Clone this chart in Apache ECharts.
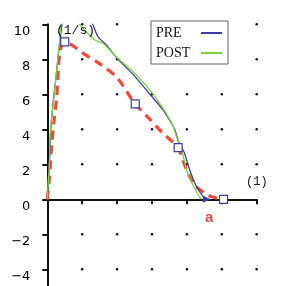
<!DOCTYPE html>
<html>
<head>
<meta charset="utf-8">
<script src="https://cdn.jsdelivr.net/npm/echarts@6/dist/echarts.min.js"></script>
<style>
html,body{margin:0;padding:0;background:#fff;}
#c{width:300px;height:286px;}
</style>
</head>
<body>
<div id="c"></div>
<script>
const xTicks = [0, 1, 2, 3, 4, 5, 6];
const yTicks = [-4, -2, 0, 2, 4, 6, 8, 10];
const seriesNames = ['PRE', 'POST'];
const preData = [[0,0],[0.03,1],[0.06,2],[0.1,4],[0.17,5.6],[0.25,7],[0.33,8.5],[0.4,9.7],[0.5,10.8],[0.8,11.4],[1.1,10.6],[1.3,10],[1.45,9.3],[1.7,8.8],[2.0,8.05],[2.45,7.15],[2.9,6.1],[3.3,5.15],[3.5,4.53],[3.65,4.0],[3.76,3.3],[3.93,2.65],[4.08,1.67],[4.28,0.7],[4.45,0.2],[4.57,0]];
const postData = [[0,0],[0.03,1],[0.06,2],[0.09,4],[0.2,6],[0.3,8],[0.35,9],[0.42,10.4],[0.65,11],[0.93,10],[1.15,9.5],[1.36,9.1],[1.6,8.9],[2.0,8.1],[2.45,7.3],[3.0,6.1],[3.3,5.25],[3.5,4.6],[3.6,4.22],[3.73,3.4],[3.85,2.8],[4.02,1.5],[4.2,0.7],[4.36,0.13],[4.42,0]];
const aData = [[0,0],[0.05,1],[0.13,3.2],[0.2,4.6],[0.27,5.85],[0.36,8.4],[0.5,9],[0.75,8.75],[1.02,8.35],[1.5,7.75],[2.0,6.95],[2.5,5.5],[2.93,4.6],[3.3,3.8],[3.75,2.95],[3.88,2.25],[4.08,1.27],[4.28,0.7],[4.6,0.24],[4.8,0.1],[5.05,0]];
const squarePts = [[0.5,9],[2.52,5.45],[3.75,2.95],[5.05,0]];
const yUnit = '(1/s)';
const xUnit = '(1)';
const curveLabel = 'a';

const dots = [];
xTicks.forEach(function (x) {
  yTicks.forEach(function (y) {
    if (x !== 0 && y !== 0) dots.push([x, y]);
  });
});

const chart = echarts.init(document.getElementById('c'));
chart.setOption({
  animation: false,
  grid: { left: 47.3, right: 43.3, top: 24.3, bottom: -18.3, containLabel: false, outerBoundsMode: 'none' },
  xAxis: {
    type: 'value', min: 0, max: 6, interval: 1,
    axisLine: { onZero: true, lineStyle: { color: '#111', width: 2 } },
    axisTick: { length: 5, lineStyle: { color: '#111', width: 2 } },
    splitLine: { show: false },
    axisLabel: {
      showMinLabel: false, align: 'left', verticalAlign: 'top', margin: 8,
      fontFamily: 'DejaVu Sans', fontSize: 13, color: '#000'
    }
  },
  yAxis: {
    type: 'value', min: -6, max: 10, interval: 2,
    axisLine: { onZero: false, lineStyle: { color: '#111', width: 2 } },
    axisTick: { length: 5, lineStyle: { color: '#111', width: 2 } },
    splitLine: { show: false },
    axisLabel: {
      verticalAlign: 'top', margin: 17, padding: [1, 0, 0, 0],
      fontFamily: 'DejaVu Sans', fontSize: 13, color: '#000',
      formatter: function (v) { return v < 0 ? '\u2212' + Math.abs(v) : String(v); }
    }
  },
  legend: {
    orient: 'vertical', left: 151, top: 21, align: 'right',
    padding: [3, 6, 2, 5], itemGap: 2, itemWidth: 21, itemHeight: 2,
    backgroundColor: '#fff', borderColor: '#666', borderWidth: 1,
    data: seriesNames.map(function (n) { return { name: n, icon: 'rect' }; }),
    formatter: function (n) { return '{t|' + n + '}'; },
    textStyle: {
      fontFamily: 'Liberation Serif', fontSize: 14, color: '#111', lineHeight: 18,
      rich: { t: { width: 40, align: 'left', fontFamily: 'Liberation Serif', fontSize: 14, color: '#111', lineHeight: 18 } }
    }
  },
  graphic: [
    { type: 'text', left: 56, top: 24, z: 10, style: { text: yUnit, font: '13px "Liberation Mono"', fill: '#111' } },
    { type: 'text', left: 246, top: 176, z: 10, style: { text: xUnit, font: '12px "Liberation Mono"', fill: '#111' } },
    { type: 'text', left: 205, top: 210, z: 10, style: { text: curveLabel, font: 'bold 15px "Liberation Sans"', fill: '#f04a3a' } }
  ],
  series: [
    { type: 'scatter', name: 'grid', data: dots, symbol: 'circle', symbolSize: 2.5, itemStyle: { color: '#111', opacity: 1 }, silent: true, z: 1 },
    { type: 'line', name: 'PRE', data: preData, showSymbol: false, symbol: 'none', smooth: 0.2,
      itemStyle: { color: '#3b3ba3' }, lineStyle: { color: '#3b3ba3', width: 1.3 }, z: 3 },
    { type: 'line', name: 'POST', data: postData, showSymbol: false, symbol: 'none', smooth: 0.2,
      itemStyle: { color: '#7ed340' }, lineStyle: { color: '#7ed340', width: 1.3 }, z: 3 },
    { type: 'line', name: 'a', data: aData, showSymbol: false, symbol: 'none', smooth: 0.3,
      itemStyle: { color: '#f04a3a' }, lineStyle: { color: '#f04a3a', width: 3.2, type: [9, 6] }, z: 2 },
    { type: 'scatter', name: 'preEnd', data: [preData[preData.length - 1]], symbol: 'triangle', symbolRotate: -90,
      symbolSize: [7, 8], itemStyle: { color: '#3b3ba3', opacity: 1 }, z: 4 },
    { type: 'scatter', name: 'marks', data: squarePts, symbol: 'rect', symbolSize: 8,
      itemStyle: { color: '#fff', borderColor: '#3b3ba3', borderWidth: 1.2, opacity: 1 }, z: 5 }
  ]
});
</script>
</body>
</html>
